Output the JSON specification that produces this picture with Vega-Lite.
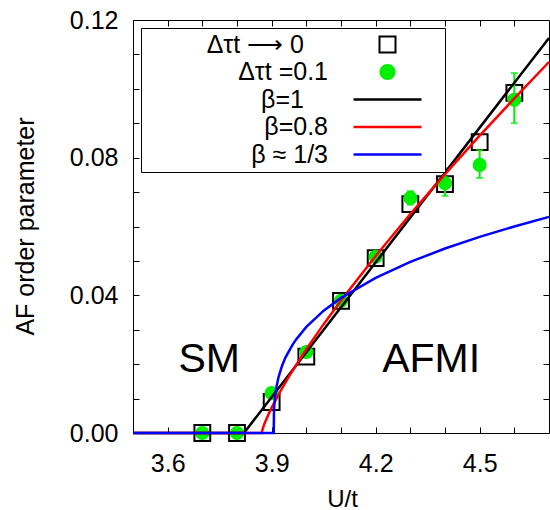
{
  "$schema": "https://vega.github.io/schema/vega-lite/v6.json",
  "width": 416,
  "height": 413,
  "autosize": {"type": "none"},
  "padding": {"left": 133, "top": 20, "right": 1, "bottom": 77},
  "config": {
    "font": "Liberation Sans",
    "view": {"stroke": "black", "strokeWidth": 1},
    "axis": {"grid": false, "domain": false, "tickColor": "black", "labelColor": "black", "titleColor": "black", "labelFontSize": 25, "titleFontSize": 24, "titleFontWeight": "normal", "tickSize": -6, "tickWidth": 1},
    "legend": {
      "orient": "none", "legendX": 8, "legendY": 8, "padding": 4,
      "strokeColor": "black", "fillColor": "white",
      "labelFontSize": 25, "labelFont": "Liberation Sans", "labelColor": "black", "labelLimit": 400,
      "symbolSize": 289, "rowPadding": 1.5, "labelAlign": "right", "symbolOffset": 230, "labelOffset": -72
    }
  },
  "datasets": {
    "squares": [
      {"U": 3.7, "m": 0.0, "series": "Δτt ⟶ 0"},
      {"U": 3.8, "m": 0.0, "series": "Δτt ⟶ 0"},
      {"U": 3.9, "m": 0.009, "series": "Δτt ⟶ 0"},
      {"U": 4.0, "m": 0.0222, "series": "Δτt ⟶ 0"},
      {"U": 4.1, "m": 0.0384, "series": "Δτt ⟶ 0"},
      {"U": 4.2, "m": 0.0508, "series": "Δτt ⟶ 0"},
      {"U": 4.3, "m": 0.0665, "series": "Δτt ⟶ 0"},
      {"U": 4.4, "m": 0.0723, "series": "Δτt ⟶ 0"},
      {"U": 4.5, "m": 0.0845, "series": "Δτt ⟶ 0"},
      {"U": 4.6, "m": 0.0988, "series": "Δτt ⟶ 0"}
    ],
    "dots": [
      {"U": 3.7, "m": 0.0, "lo": 0.0, "hi": 0.0, "series": "Δτt =0.1"},
      {"U": 3.8, "m": 0.0, "lo": 0.0, "hi": 0.0, "series": "Δτt =0.1"},
      {"U": 3.9, "m": 0.0116, "lo": 0.0112, "hi": 0.012, "series": "Δτt =0.1"},
      {"U": 4.0, "m": 0.0235, "lo": 0.0231, "hi": 0.0239, "series": "Δτt =0.1"},
      {"U": 4.1, "m": 0.0384, "lo": 0.038, "hi": 0.0388, "series": "Δτt =0.1"},
      {"U": 4.2, "m": 0.0512, "lo": 0.0506, "hi": 0.0518, "series": "Δτt =0.1"},
      {"U": 4.3, "m": 0.0683, "lo": 0.0663, "hi": 0.0703, "series": "Δτt =0.1"},
      {"U": 4.4, "m": 0.0726, "lo": 0.0689, "hi": 0.077, "series": "Δτt =0.1"},
      {"U": 4.5, "m": 0.0779, "lo": 0.0741, "hi": 0.0822, "series": "Δτt =0.1"},
      {"U": 4.6, "m": 0.0968, "lo": 0.09, "hi": 0.1046, "series": "Δτt =0.1"}
    ],
    "curves": [
      {"U": 3.5, "m": 0.0, "series": "β=1"},
      {"U": 3.82, "m": 0.0, "series": "β=1"},
      {"U": 4.7, "m": 0.1148, "series": "β=1"},
      {"U": 3.5, "m": 0.0, "series": "β=0.8"},
      {"U": 3.871, "m": 0.0, "series": "β=0.8"},
      {"U": 3.875, "m": 0.00151, "series": "β=0.8"},
      {"U": 3.88, "m": 0.00289, "series": "β=0.8"},
      {"U": 3.89, "m": 0.00525, "series": "β=0.8"},
      {"U": 3.9, "m": 0.00737, "series": "β=0.8"},
      {"U": 3.925, "m": 0.01212, "series": "β=0.8"},
      {"U": 3.95, "m": 0.01643, "series": "β=0.8"},
      {"U": 4.0, "m": 0.02433, "series": "β=0.8"},
      {"U": 4.05, "m": 0.03163, "series": "β=0.8"},
      {"U": 4.1, "m": 0.03851, "series": "β=0.8"},
      {"U": 4.2, "m": 0.05145, "series": "β=0.8"},
      {"U": 4.3, "m": 0.06361, "series": "β=0.8"},
      {"U": 4.4, "m": 0.07523, "series": "β=0.8"},
      {"U": 4.5, "m": 0.0864, "series": "β=0.8"},
      {"U": 4.6, "m": 0.09722, "series": "β=0.8"},
      {"U": 4.7, "m": 0.1078, "series": "β=0.8"},
      {"U": 3.5, "m": 0.0, "series": "β ≈ 1/3"},
      {"U": 3.906, "m": 0.0, "series": "β ≈ 1/3"},
      {"U": 3.9065, "m": 0.0054, "series": "β ≈ 1/3"},
      {"U": 3.907, "m": 0.00678, "series": "β ≈ 1/3"},
      {"U": 3.908, "m": 0.00854, "series": "β ≈ 1/3"},
      {"U": 3.91, "m": 0.01076, "series": "β ≈ 1/3"},
      {"U": 3.913, "m": 0.01297, "series": "β ≈ 1/3"},
      {"U": 3.92, "m": 0.01634, "series": "β ≈ 1/3"},
      {"U": 3.93, "m": 0.01955, "series": "β ≈ 1/3"},
      {"U": 3.94, "m": 0.02197, "series": "β ≈ 1/3"},
      {"U": 3.96, "m": 0.02563, "series": "β ≈ 1/3"},
      {"U": 3.97, "m": 0.02712, "series": "β ≈ 1/3"},
      {"U": 4.0, "m": 0.03083, "series": "β ≈ 1/3"},
      {"U": 4.05, "m": 0.03554, "series": "β ≈ 1/3"},
      {"U": 4.1, "m": 0.03925, "series": "β ≈ 1/3"},
      {"U": 4.2, "m": 0.04509, "series": "β ≈ 1/3"},
      {"U": 4.3, "m": 0.0497, "series": "β ≈ 1/3"},
      {"U": 4.4, "m": 0.05361, "series": "β ≈ 1/3"},
      {"U": 4.5, "m": 0.05699, "series": "β ≈ 1/3"},
      {"U": 4.6, "m": 0.06002, "series": "β ≈ 1/3"},
      {"U": 4.7, "m": 0.0628, "series": "β ≈ 1/3"}
    ],
    "labels": [
      {"U": 3.72, "m": 0.0177, "text": "SM"},
      {"U": 4.36, "m": 0.0177, "text": "AFMI"}
    ]
  },
  "layer": [
    {
      "data": {"name": "squares"},
      "mark": {"type": "point", "shape": "square", "filled": false, "size": 250, "strokeWidth": 2, "opacity": 1},
      "encoding": {
        "x": {"field": "U", "type": "quantitative", "scale": {"domain": [3.5, 4.7], "nice": false, "zero": false},
          "axis": {"orient": "bottom", "title": "U/t", "values": [3.6, 3.7, 3.8, 3.9, 4.0, 4.1, 4.2, 4.3, 4.4, 4.5, 4.6], "format": ".1f",
            "labelExpr": "indexof(['3.6','3.9','4.2','4.5'], datum.label) >= 0 ? datum.label : ''", "labelPadding": 24, "titleY": 54, "titleX": 209}},
        "y": {"field": "m", "type": "quantitative", "scale": {"domain": [0, 0.12], "nice": false, "zero": false},
          "axis": {"orient": "left", "title": "AF order parameter", "titleFontSize": 25, "values": [0, 0.01, 0.02, 0.03, 0.04, 0.05, 0.06, 0.07, 0.08, 0.09, 0.1, 0.11, 0.12], "format": ".2f",
            "labelExpr": "indexof(['0.00','0.04','0.08','0.12'], datum.label) >= 0 ? datum.label : ''", "labelPadding": 21, "titleX": -108, "titleY": 206, "titleBaseline": "middle"}},
        "color": {"field": "series", "type": "nominal",
          "scale": {"domain": ["Δτt ⟶ 0", "Δτt =0.1", "β=1", "β=0.8", "β ≈ 1/3"], "range": ["black", "#00ee00", "black", "#ff0000", "#0000ff"]},
          "legend": {
            "title": null, "labelAlign": "right", "labelOffset": -72, "symbolOffset": 230,
            "encode": {
              "symbols": {"update": {
                "shape": {"signal": "datum.index == 0 ? 'square' : datum.index == 1 ? 'circle' : 'M-4,0H4M5.7,0'"},
                "size": {"signal": "datum.index == 0 ? 256 : datum.index == 1 ? 200 : 289"},
                "fill": {"signal": "datum.index == 1 ? '#00ee00' : 'white'"},
                "fillOpacity": {"signal": "datum.index == 1 ? 1 : 0"},
                "stroke": {"signal": "datum.index == 1 ? '#00ee00' : scale('color', datum.value)"},
                "strokeWidth": {"signal": "datum.index < 2 ? 2 : 2.5"},
                "opacity": {"value": 1}
              }},
              "labels": {"update": {
                "dx": {"signal": "datum.index == 0 || datum.index == 2 ? -24 : 0"}
              }}
            }
          }}
      }
    },
    {
      "data": {"name": "dots"},
      "mark": {"type": "errorbar", "color": "#00ee00", "thickness": 2, "ticks": {"size": 7, "thickness": 2, "color": "#00ee00"}},
      "encoding": {
        "x": {"field": "U", "type": "quantitative", "axis": null},
        "y": {"field": "lo", "type": "quantitative", "axis": null},
        "y2": {"field": "hi"}
      }
    },
    {
      "data": {"name": "dots"},
      "mark": {"type": "circle", "size": 200, "opacity": 1},
      "encoding": {
        "x": {"field": "U", "type": "quantitative",
          "axis": {"orient": "top", "title": null, "labels": false, "values": [3.6, 3.7, 3.8, 3.9, 4.0, 4.1, 4.2, 4.3, 4.4, 4.5, 4.6]}},
        "y": {"field": "m", "type": "quantitative",
          "axis": {"orient": "right", "title": null, "labels": false, "values": [0.01, 0.02, 0.03, 0.04, 0.05, 0.06, 0.07, 0.08, 0.09, 0.1, 0.11]}},
        "color": {"field": "series", "type": "nominal",
          "legend": {
            "title": null, "labelAlign": "right", "labelOffset": -72, "symbolOffset": 230,
            "encode": {
              "symbols": {"update": {
                "shape": {"signal": "datum.index == 0 ? 'square' : datum.index == 1 ? 'circle' : 'M-4,0H4M5.7,0'"},
                "size": {"signal": "datum.index == 0 ? 256 : datum.index == 1 ? 200 : 289"},
                "fill": {"signal": "datum.index == 1 ? '#00ee00' : 'white'"},
                "fillOpacity": {"signal": "datum.index == 1 ? 1 : 0"},
                "stroke": {"signal": "datum.index == 1 ? '#00ee00' : scale('color', datum.value)"},
                "strokeWidth": {"signal": "datum.index < 2 ? 2 : 2.5"},
                "opacity": {"value": 1}
              }},
              "labels": {"update": {
                "dx": {"signal": "datum.index == 0 || datum.index == 2 ? -24 : 0"}
              }}
            }
          }}
      }
    },
    {
      "data": {"name": "curves"},
      "mark": {"type": "line", "strokeWidth": 2.5},
      "encoding": {
        "x": {"field": "U", "type": "quantitative", "axis": null},
        "y": {"field": "m", "type": "quantitative", "axis": null},
        "color": {"field": "series", "type": "nominal",
          "legend": {
            "title": null, "labelAlign": "right", "labelOffset": -72, "symbolOffset": 230,
            "encode": {
              "symbols": {"update": {
                "shape": {"signal": "datum.index == 0 ? 'square' : datum.index == 1 ? 'circle' : 'M-4,0H4M5.7,0'"},
                "size": {"signal": "datum.index == 0 ? 256 : datum.index == 1 ? 200 : 289"},
                "fill": {"signal": "datum.index == 1 ? '#00ee00' : 'white'"},
                "fillOpacity": {"signal": "datum.index == 1 ? 1 : 0"},
                "stroke": {"signal": "datum.index == 1 ? '#00ee00' : scale('color', datum.value)"},
                "strokeWidth": {"signal": "datum.index < 2 ? 2 : 2.5"},
                "opacity": {"value": 1}
              }},
              "labels": {"update": {
                "dx": {"signal": "datum.index == 0 || datum.index == 2 ? -24 : 0"}
              }}
            }
          }}
      }
    },
    {
      "data": {"name": "labels"},
      "mark": {"type": "text", "fontSize": 41, "align": "center", "baseline": "alphabetic", "color": "black"},
      "encoding": {
        "x": {"field": "U", "type": "quantitative", "axis": null},
        "y": {"field": "m", "type": "quantitative", "axis": null},
        "text": {"field": "text"}
      }
    }
  ],
  "resolve": {"axis": {"x": "independent", "y": "independent"}}
}
